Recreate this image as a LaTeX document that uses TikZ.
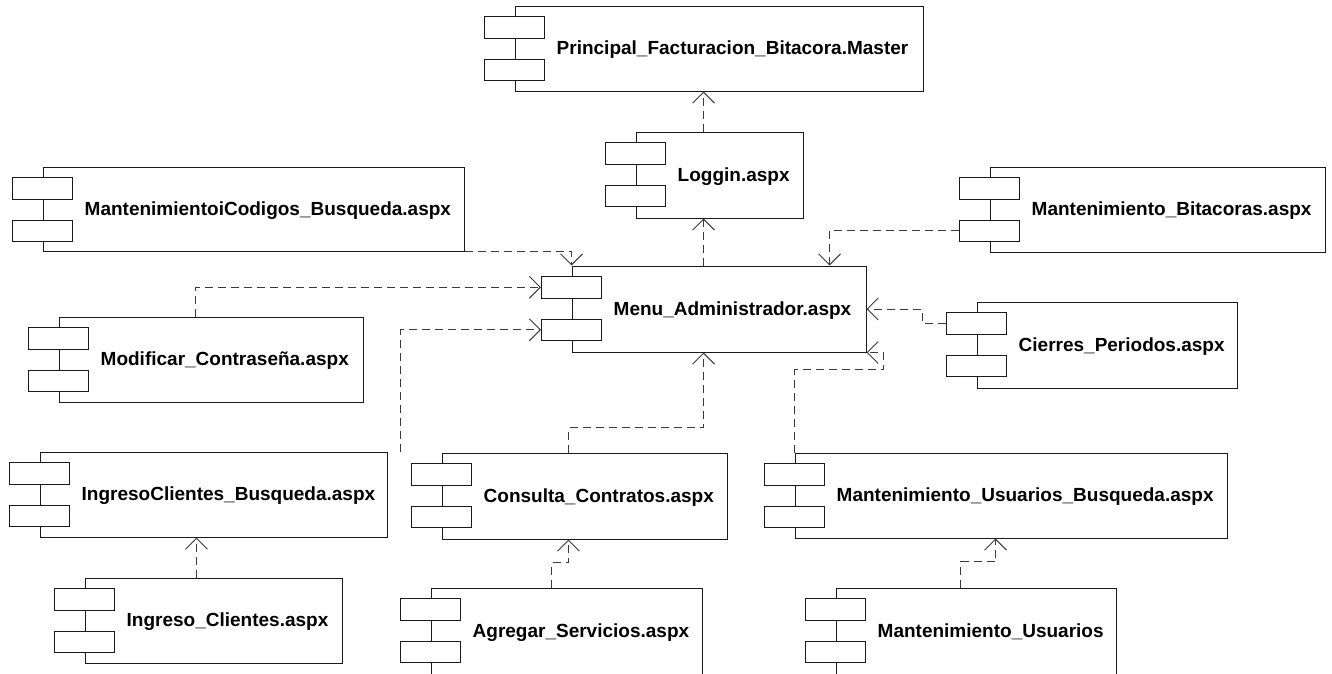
\documentclass[tikz,border=0pt]{standalone}
\usepackage{fontspec}
\setmainfont{Liberation Sans}
\usetikzlibrary{arrows.meta,calc}

\definecolor{boxline}{HTML}{1A1A1A}
\definecolor{depline}{HTML}{3A3A3A}

\tikzset{
  compbox/.style={rectangle, draw=boxline, line width=1pt, inner sep=0pt},
  port/.style={rectangle, draw=boxline, fill=white, line width=1pt, inner sep=0pt,
               minimum width=60pt, minimum height=21.5pt, anchor=north},
  comptext/.style={font=\bfseries\fontsize{19}{22}\selectfont, inner sep=0pt,
                   text=black, anchor=base west},
  dep/.style={draw=depline, line width=1pt, dash pattern=on 8pt off 5pt,
              -{Straight Barb[length=11pt,width=22pt]}}
}

% UML component: name, left, top, right, bottom, label
\newcommand\umlcomp[6]{%
  \node[compbox, minimum width={(#4-#2)*1pt}, minimum height={(#5-#3)*1pt}]
    (#1) at ({(#2+#4)/2},{(#3+#5)/2}) {};
  \node[port] (#1-p1) at ([yshift=-10.5pt]#1.north west) {};
  \node[port] (#1-p2) at ([yshift=-53pt]#1.north west) {};
  \node[comptext] (#1-t) at ([xshift=42pt,yshift=-6pt]#1.west) {#6};
}

\begin{document}
\begin{tikzpicture}[x=1pt,y=-1pt]
  \useasboundingbox (0,0) rectangle (1332,673);
  \fill[white] (0,0) rectangle (1332,673);
  \clip (0,0) rectangle (1332,673);

  % components
  \umlcomp{prin}{515}{6}{923}{91}{Principal\_Facturacion\_Bitacora.Master}
  \umlcomp{log}{636}{132}{803}{218}{Loggin.aspx}
  \umlcomp{mcod}{43}{167}{464}{251}{MantenimientoiCodigos\_Busqueda.aspx}
  \umlcomp{mbit}{990}{167}{1325}{252}{Mantenimiento\_Bitacoras.aspx}
  \umlcomp{menu}{572}{266}{866}{352}{Menu\_Administrador.aspx}
  \umlcomp{mod}{59}{317}{363}{402}{Modificar\_Contraseña.aspx}
  \umlcomp{cier}{977}{302}{1237}{388}{Cierres\_Periodos.aspx}
  \umlcomp{icb}{40}{452}{387}{537}{IngresoClientes\_Busqueda.aspx}
  \umlcomp{cons}{442}{453}{727}{539}{Consulta\_Contratos.aspx}
  \umlcomp{mub}{795}{453}{1227}{538}{Mantenimiento\_Usuarios\_Busqueda.aspx}
  \umlcomp{ing}{85}{578}{342}{663}{Ingreso\_Clientes.aspx}
  \umlcomp{agr}{431}{588}{702}{674}{Agregar\_Servicios.aspx}
  \umlcomp{mu}{836}{588}{1116}{674}{Mantenimiento\_Usuarios}

  % anchor points for the dependency lines
  \coordinate (logtop) at ([xshift=68pt]log.north west);
  \coordinate (menutop) at ([xshift=132pt]menu.north west);
  \coordinate (menubot) at ([xshift=132pt]menu.south west);
  \coordinate (bitdrop) at ([xshift=258pt]menu.north west);
  \coordinate (modtop) at ([xshift=137pt]mod.north west);
  \coordinate (icbstart) at ([xshift=13pt]icb.north east);
  \coordinate (constop) at ([xshift=127pt]cons.north west);
  \coordinate (consbot) at ([xshift=127pt]cons.south west);
  \coordinate (agrtop) at ([xshift=121pt]agr.north west);
  \coordinate (ingtop) at ([xshift=112pt]ing.north west);
  \coordinate (mutop) at ([xshift=125pt]mu.north west);
  \coordinate (mubbot) at ([xshift=201pt]mub.south west);
  \coordinate (mubjog) at ([xshift=17pt,yshift=-17pt]menu.south east);

  % dependencies
  \draw[dep] (logtop) -- (logtop |- prin.south);
  \draw[dep] (menutop) -- (menutop |- log.south);
  \draw[dep] (mcod.south east) -| (menu.north west);
  \draw[dep] (mbit-p2.west) -| (bitdrop);
  \draw[dep] (modtop) |- (menu-p1.west);
  \draw[dep] (icbstart) |- (menu-p2.west);
  \draw[dep] (constop) -- ++(0,25pt) -| (menubot);
  \draw[dep] (mub.north west) |- (mubjog) |- (menu.south east);
  \draw[dep] (cier-p1.west) -- ++(-24pt,0) |- (menu.east);
  \draw[dep] (agrtop) -- ++(0,25pt) -| (consbot);
  \draw[dep] (ingtop) -- (ingtop |- icb.south);
  \draw[dep] (mutop) -- ++(0,26pt) -| (mubbot);
\end{tikzpicture}
\end{document}
